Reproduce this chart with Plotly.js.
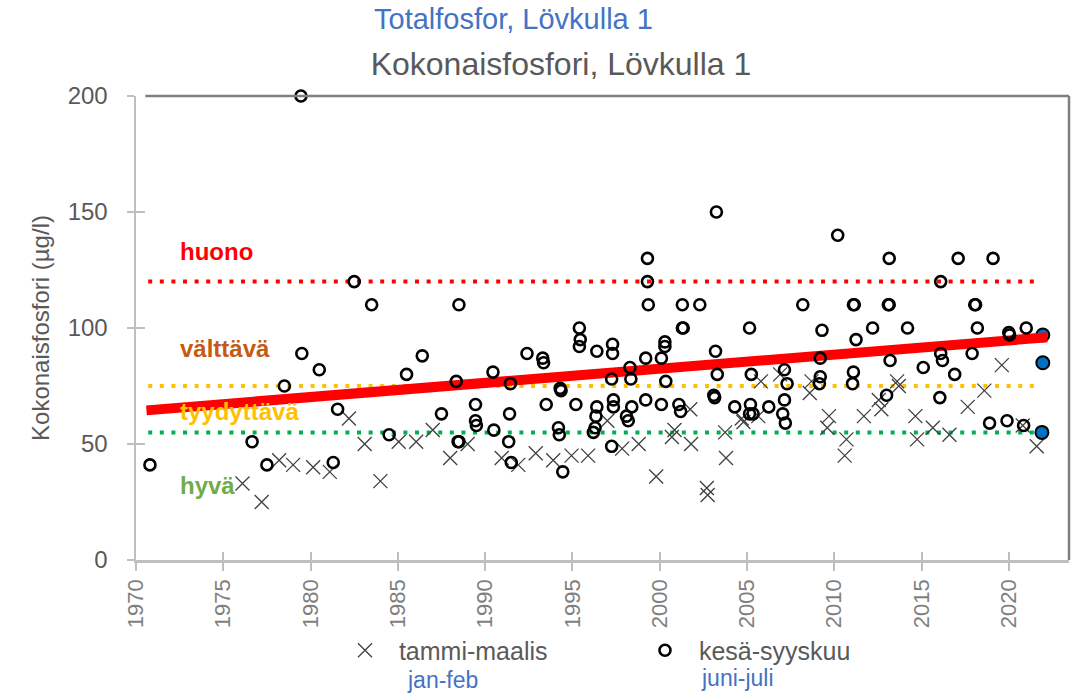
<!DOCTYPE html>
<html>
<head>
<meta charset="utf-8">
<script src="https://cdn.plot.ly/plotly-3.0.1.min.js"></script>
<style>
  html, body { margin: 0; padding: 0; background: #ffffff; }
  #chart { width: 1076px; height: 697px; }
</style>
</head>
<body>
<div id="chart"></div>
<script>
// ---- data ----
const crossYears = [1976.1, 1977.2, 1978.2, 1979.0, 1980.15, 1981.1, 1982.2, 1983.1, 1984.0, 1985.05,
  1986.05, 1987.0, 1988.0, 1989.0, 1990.95, 1991.9, 1992.9, 1993.9, 1994.95, 1995.9,
  1997.0, 1997.85, 1998.8, 1999.8, 2000.7, 2000.85, 2001.75, 2001.8, 2002.7, 2002.75,
  2003.75, 2003.8, 2004.7, 2004.8, 2005.65, 2005.8, 2006.9, 2008.6, 2008.7, 2009.7,
  2009.6, 2010.7, 2010.6, 2011.7, 2012.55, 2012.7, 2013.6, 2013.7, 2014.65, 2014.75,
  2015.65, 2016.6, 2017.65, 2018.6, 2019.6, 2020.8, 2021.6];
const crossValues = [33, 25, 43, 41, 40, 38, 61, 50, 34, 51,
  51, 56, 44, 50, 44, 41, 46, 43, 45, 45,
  60, 48, 50, 36, 53, 56, 65, 50, 31, 28,
  55, 44, 61, 59.5, 62, 77, 80, 72, 77, 62,
  57, 52, 45, 62, 69, 65, 77, 75, 62, 52,
  57, 54, 66, 73, 84, 58, 49];

const circleYears = [1970.8, 1976.65, 1977.5, 1978.5, 1979.45, 1979.5, 1980.5, 1981.55, 1981.3, 1982.5,
  1983.5, 1984.5, 1985.5, 1986.4, 1987.5, 1988.5, 1988.35, 1988.45, 1988.5, 1989.45,
  1989.45, 1989.5, 1990.45, 1990.5, 1991.45, 1991.4, 1991.35, 1991.5, 1992.4, 1993.3,
  1993.35, 1993.5, 1994.3, 1994.35, 1994.2, 1994.25, 1994.45, 1995.2, 1995.4, 1995.45,
  1995.4, 1996.4, 1996.4, 1996.35, 1996.3, 1996.2, 1997.3, 1997.3, 1997.25, 1997.35,
  1997.35, 1997.25, 1998.3, 1998.35, 1998.4, 1998.1, 1998.2, 1999.3, 1999.3, 1999.35,
  1999.2, 1999.2, 2000.3, 2000.3, 2000.1, 2000.35, 2000.1, 2001.3, 2001.3, 2001.35,
  2001.1, 2001.2, 2002.3, 2003.25, 2003.2, 2003.3, 2003.1, 2003.15, 2004.3, 2005.15,
  2005.25, 2005.2, 2005.15, 2005.35, 2006.25, 2007.15, 2007.3, 2007.15, 2007.05, 2007.2,
  2008.2, 2009.3, 2009.2, 2009.2, 2009.15, 2010.2, 2011.1, 2011.15, 2011.25, 2011.1,
  2011.05, 2012.2, 2013.0, 2013.15, 2013.1, 2013.15, 2013.2, 2014.2, 2015.1, 2016.1,
  2016.05, 2016.1, 2016.2, 2016.9, 2017.1, 2017.9, 2018.05, 2018.1, 2018.2, 2018.9,
  2019.1, 2019.9, 2020.0, 2020.05, 2021.0, 2020.85];
const circleValues = [41, 51, 41, 75, 200, 89, 82, 65, 42, 120,
  110, 54, 80, 88, 63, 110, 77, 51, 51, 67,
  60, 58, 81, 56, 76, 63, 51, 42, 89, 87,
  85, 67, 74, 73, 57, 54, 38, 67, 100, 95,
  92, 90, 66, 62, 57, 55, 93, 89, 78, 69,
  66, 49, 83, 78, 66, 62, 60, 130, 120, 110,
  87, 69, 94, 92, 87, 77, 67, 110, 100, 100,
  67, 64, 110, 150, 90, 80, 71, 70, 66, 100,
  80, 67, 63, 63, 66, 82, 76, 69, 63, 59,
  110, 99, 87, 79, 76, 140, 110, 110, 95, 81,
  76, 100, 71, 130, 110, 110, 86, 100, 83, 120,
  70, 89, 86, 80, 130, 89, 110, 110, 100, 59,
  130, 60, 98, 97, 100, 58];

const latestYears = [2021.95, 2021.95, 2021.9];
const latestValues = [97, 85, 55];

const trendYears = [1970.6, 2022.2];
const trendValues = [64.5, 96];

const thresholdValues = [120, 75, 55];
const thresholdColors = ['#FF0000', '#FFC000', '#00B050'];
const thresholdSpan = [1970.7, 2021.85];

const classNames = ['huono', 'välttävä', 'tyydyttävä', 'hyvä'];
const classColors = ['#FF0000', '#C55A11', '#FFC000', '#70AD47'];
const classLabelValues = [133, 91, 64, 32];
const classLabelYear = 1972.4;

const xTickVals = [1970, 1975, 1980, 1985, 1990, 1995, 2000, 2005, 2010, 2015, 2020];
const yTickVals = [0, 50, 100, 150, 200];

const FONT = 'Liberation Sans, Arial, sans-serif';

// ---- traces ----
const traces = [];
thresholdValues.forEach((v, i) => {
  traces.push({
    x: thresholdSpan, y: [v, v], mode: 'lines', showlegend: false, hoverinfo: 'skip',
    line: { color: thresholdColors[i], width: 4, dash: '4px,7.6px' }
  });
});
traces.push({
  x: crossYears, y: crossValues, mode: 'markers', name: '\u00a0\u00a0tammi-maalis', type: 'scatter',
  marker: { symbol: 'x-thin-open', size: 14, color: '#404040', line: { color: '#404040', width: 1.3 } }
});
traces.push({
  x: latestYears, y: latestValues, mode: 'markers', showlegend: false, type: 'scatter',
  marker: { symbol: 'circle', size: 13, color: '#0070C0', line: { color: '#000000', width: 2 } }
});
traces.push({
  x: trendYears, y: trendValues, mode: 'lines', showlegend: false, hoverinfo: 'skip',
  line: { color: '#FF0000', width: 10 }
});
traces.push({
  x: circleYears, y: circleValues, mode: 'markers', name: '\u00a0\u00a0kesä-syyskuu', type: 'scatter',
  cliponaxis: false,
  marker: { symbol: 'circle-open', size: 11, color: '#000000', line: { color: '#000000', width: 2.6 } }
});
// dummy trace for the overlay axes (tick marks crossing the axis lines)
traces.push({ x: [], y: [], xaxis: 'x2', yaxis: 'y2', showlegend: false, hoverinfo: 'skip', mode: 'markers' });

const annotations = classNames.map((t, i) => ({
  x: classLabelYear, y: classLabelValues[i], xref: 'x', yref: 'y', text: '<b>' + t + '</b>',
  showarrow: false, xanchor: 'left', yanchor: 'middle',
  font: { family: FONT, size: 24, color: classColors[i] }
}));
annotations.push({
  x: 0.405, y: 1.165, xref: 'paper', yref: 'paper', text: 'Totalfosfor, Lövkulla 1',
  showarrow: false, xanchor: 'center', yanchor: 'middle',
  font: { family: FONT, size: 29, color: '#4472C4' }
});
annotations.push({
  x: 0.328, y: -0.258, xref: 'paper', yref: 'paper', text: 'jan-feb',
  showarrow: false, xanchor: 'center', yanchor: 'middle',
  font: { family: FONT, size: 23, color: '#4472C4' }
});
annotations.push({
  x: 0.645, y: -0.254, xref: 'paper', yref: 'paper', text: 'juni-juli',
  showarrow: false, xanchor: 'center', yanchor: 'middle',
  font: { family: FONT, size: 23, color: '#4472C4' }
});

const layout = {
  width: 1076, height: 697,
  margin: { l: 136, r: 7, t: 96, b: 137 },
  paper_bgcolor: '#ffffff', plot_bgcolor: '#ffffff',
  font: { family: FONT, color: '#595959' },
  title: {
    text: 'Kokonaisfosfori, Lövkulla 1',
    x: 0.4555, xref: 'paper', xanchor: 'center',
    y: 0.908, yref: 'container', yanchor: 'middle',
    font: { family: FONT, size: 32, color: '#595959' }
  },
  xaxis: {
    range: [1970, 2023.45], tickvals: xTickVals, ticktext: xTickVals.map(String),
    tickangle: -90, ticks: 'outside', ticklen: 8, tickwidth: 2, tickcolor: '#bfbfbf',
    showline: true, linecolor: '#bfbfbf', linewidth: 2.5, showgrid: false, zeroline: false,
    tickfont: { family: FONT, size: 22, color: '#7f7f7f' }, fixedrange: true
  },
  yaxis: {
    range: [0, 200], tickvals: yTickVals, ticks: 'outside', ticklen: 7, tickwidth: 2, tickcolor: '#bfbfbf',
    showline: true, linecolor: '#bfbfbf', linewidth: 2.5, showgrid: false, zeroline: false,
    ticklabelstandoff: 14,
    tickfont: { family: FONT, size: 24, color: '#595959' }, fixedrange: true,
    title: { text: 'Kokonaisfosfori (µg/l)', standoff: 12, font: { family: FONT, size: 24, color: '#595959' } }
  },
  xaxis2: {
    overlaying: 'x', anchor: 'y', range: [1970, 2023.45], tickvals: xTickVals,
    ticks: 'inside', ticklen: 8, tickwidth: 2, tickcolor: '#bfbfbf',
    showticklabels: false, showline: false, showgrid: false, zeroline: false, fixedrange: true
  },
  yaxis2: {
    overlaying: 'y', anchor: 'x', side: 'left', range: [0, 200], tickvals: yTickVals,
    ticks: 'inside', ticklen: 9, tickwidth: 2, tickcolor: '#bfbfbf',
    showticklabels: false, showline: false, showgrid: false, zeroline: false, fixedrange: true
  },
  shapes: [
    { type: 'line', xref: 'paper', yref: 'paper', x0: 0.01, x1: 1, y0: 1, y1: 1, line: { color: '#7f7f7f', width: 2.5 } },
    { type: 'line', xref: 'paper', yref: 'paper', x0: 1, x1: 1, y0: 0, y1: 1, line: { color: '#7f7f7f', width: 2.5 } }
  ],
  showlegend: true,
  legend: {
    orientation: 'h', x: 0.224, xanchor: 'left', y: -0.195, yanchor: 'middle',
    entrywidth: 255, entrywidthmode: 'pixels', bgcolor: 'rgba(0,0,0,0)',
    font: { family: FONT, size: 25, color: '#595959' }, itemsizing: 'trace'
  },
  annotations: annotations
};

Plotly.newPlot('chart', traces, layout, { displayModeBar: false, staticPlot: true });
</script>
</body>
</html>
